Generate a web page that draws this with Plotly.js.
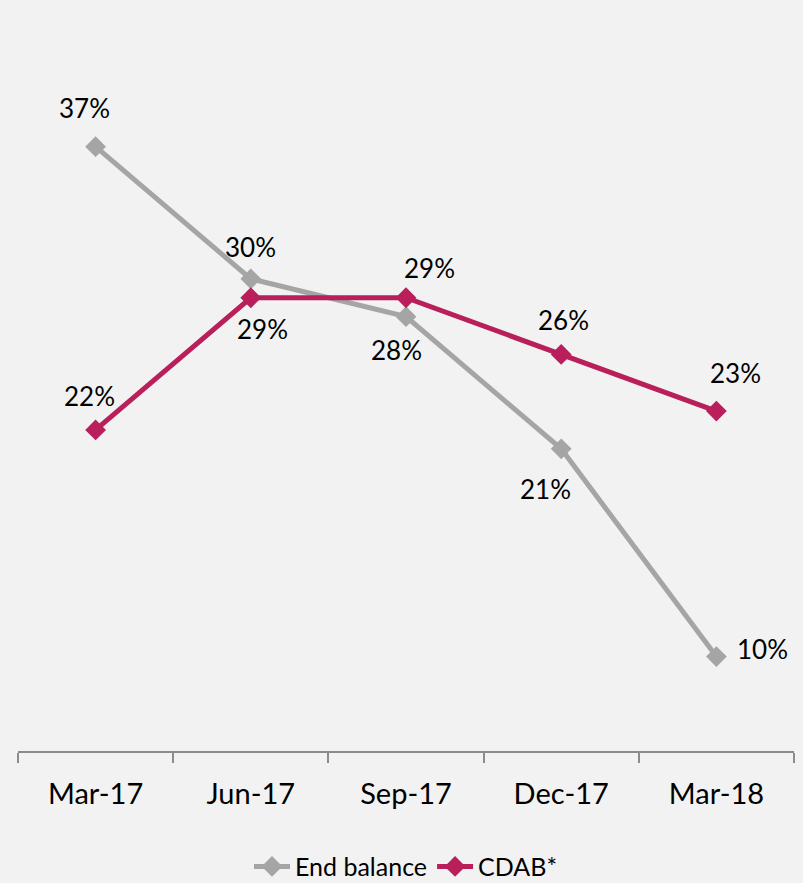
<!DOCTYPE html>
<html>
<head>
<meta charset="utf-8">
<script src="https://cdn.plot.ly/plotly-3.0.1.min.js"></script>
<style>html,body{margin:0;padding:0;background:#f2f2f2;}#chart{width:803px;height:883px;}</style>
</head>
<body>
<div id="chart"></div>
<script>
const categories = ["Mar-17", "Jun-17", "Sep-17", "Dec-17", "Mar-18"];
const endBalance = [37, 30, 28, 21, 10];
const cdab = [22, 29, 29, 26, 23];
const seriesNames = ["End balance", "CDAB*"];

// label offsets in pixels (style only)
const ebOffsets = [[-11, 39], [0, 32], [-10, -33], [-16, -40], [46, 8]];
const cdOffsets = [[-6, 34], [12, -31], [23, 30], [2, 34], [19, 38]];

const gray = "#a5a5a5";
const red = "#b81f5b";

const traces = [
  {x: categories, y: endBalance, name: seriesNames[0], type: "scatter", mode: "lines+markers",
   line: {color: gray, width: 5}, marker: {symbol: "diamond", size: 16, color: gray}},
  {x: categories, y: cdab, name: seriesNames[1], type: "scatter", mode: "lines+markers",
   line: {color: red, width: 5}, marker: {symbol: "diamond", size: 16, color: red}}
];

const annotations = [];
function addLabels(vals, offs) {
  vals.forEach((v, i) => {
    annotations.push({x: categories[i], y: v, xref: "x", yref: "y", text: v + "%",
      showarrow: false, xshift: offs[i][0], yshift: offs[i][1],
      font: {family: "Lato, sans-serif", size: 26, color: "#000"}});
  });
}
addLabels(endBalance, ebOffsets);
addLabels(cdab, cdOffsets);

const layout = {
  width: 803, height: 883,
  paper_bgcolor: "#f2f2f2", plot_bgcolor: "#f2f2f2",
  margin: {l: 18, r: 9, t: 90, b: 132, autoexpand: false},
  showlegend: true,
  legend: {orientation: "h", x: 0.5, xanchor: "center", y: -0.175, yanchor: "middle",
    itemwidth: 36, tracegroupgap: 0,
    font: {family: "Lato, sans-serif", size: 25, color: "#000"}, bgcolor: "rgba(0,0,0,0)"},
  xaxis: {type: "category", range: [-0.5, 4.5], showline: true, linecolor: "#8c8c8c", linewidth: 2,
    ticks: "outside", tickson: "boundaries", ticklen: 10, tickcolor: "#8c8c8c", tickwidth: 2,
    ticklabelstandoff: 16, showgrid: false, zeroline: false, automargin: false,
    tickfont: {family: "Lato, sans-serif", size: 29, color: "#000"}},
  yaxis: {range: [5, 40], visible: false, showgrid: false, zeroline: false},
  annotations: annotations
};

Plotly.newPlot("chart", traces, layout, {displayModeBar: false, staticPlot: true});
</script>
</body>
</html>
